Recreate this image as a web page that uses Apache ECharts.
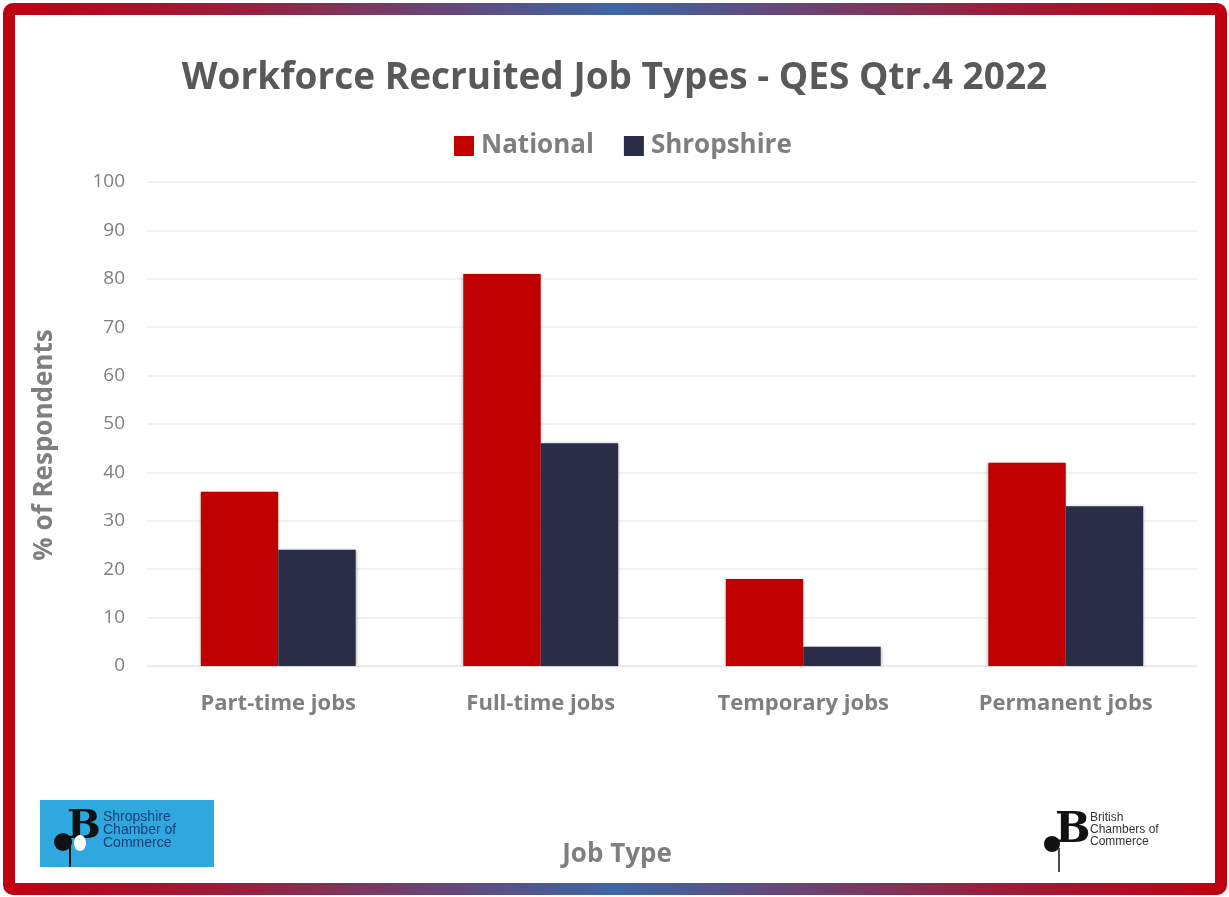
<!DOCTYPE html>
<html>
<head>
<meta charset="utf-8">
<script src="https://cdn.jsdelivr.net/npm/echarts@6/dist/echarts.min.js"></script>
<style>
html,body{margin:0;padding:0;background:#fff;}
#chart{width:1229px;height:897px;}
</style>
</head>
<body>
<div id="chart"></div>
<script>
const categories = ['Part-time jobs', 'Full-time jobs', 'Temporary jobs', 'Permanent jobs'];
const nationalValues = [36, 81, 18, 42];
const shropshireValues = [24, 46, 4, 33];
const seriesNames = ['National', 'Shropshire'];

const chart = echarts.init(document.getElementById('chart'));
const FONT = '"Open Sans", "Noto Sans", sans-serif';
const GREY = '#7f7f7f';

const option = {
  backgroundColor: '#ffffff',
  animation: false,
  title: {
    text: 'Workforce Recruited Job Types - QES Qtr.4 2022',
    left: 'center',
    top: 55,
    textStyle: { fontFamily: FONT, fontSize: 37, fontWeight: 'bold', color: '#595959' }
  },
  legend: {
    data: seriesNames,
    top: 128,
    left: 449,
    itemWidth: 20,
    itemHeight: 20,
    itemGap: 30,
    icon: 'rect',
    textStyle: { fontFamily: FONT, fontSize: 26, fontWeight: 'bold', color: GREY, padding: [0, 0, 0, 2] }
  },
  grid: { left: 147, right: 32, top: 182, bottom: 231 },
  xAxis: {
    type: 'category',
    data: categories,
    name: 'Job Type',
    nameLocation: 'middle',
    nameGap: 176,
    nameTextStyle: { fontFamily: FONT, fontSize: 26, fontWeight: 'bold', color: GREY, verticalAlign: 'top', padding: [0, 110, 0, 0] },
    axisLine: { show: true, lineStyle: { color: '#e6e6e6', width: 1 } },
    axisTick: { show: false },
    axisLabel: { margin: 27, fontFamily: FONT, fontSize: 22, fontWeight: 'bold', color: GREY }
  },
  yAxis: {
    type: 'value',
    min: 0,
    max: 100,
    interval: 10,
    name: '% of Respondents',
    nameLocation: 'middle',
    nameGap: 89,
    nameTextStyle: { fontFamily: FONT, fontSize: 26, fontWeight: 'bold', color: GREY, padding: [0, 42, 0, 0] },
    axisLine: { show: false },
    axisTick: { show: false },
    axisLabel: { margin: 22, fontFamily: FONT, fontSize: 19, color: GREY },
    splitLine: { lineStyle: { color: '#eeeeee', width: 1.5 } }
  },
  series: [
    {
      name: seriesNames[0],
      type: 'bar',
      data: nationalValues,
      barGap: '0%',
      barCategoryGap: '41%',
      itemStyle: { color: '#c00000', shadowBlur: 3, shadowColor: 'rgba(0,0,0,0.25)', shadowOffsetX: -1 }
    },
    {
      name: seriesNames[1],
      type: 'bar',
      data: shropshireValues,
      itemStyle: { color: '#2a2d48', shadowBlur: 3, shadowColor: 'rgba(0,0,0,0.25)', shadowOffsetX: 1 }
    }
  ],
  graphic: [
    {
      type: 'rect',
      shape: { x: 9, y: 9, width: 1212, height: 880, r: 4 },
      style: {
        fill: 'none',
        lineWidth: 12,
        stroke: {
          type: 'linear', x: 0, y: 0, x2: 1, y2: 0,
          colorStops: [
            { offset: 0, color: '#c00010' },
            { offset: 0.18, color: '#9c1d38' },
            { offset: 0.5, color: '#3d67a6' },
            { offset: 0.82, color: '#9c1d38' },
            { offset: 1, color: '#c00010' }
          ]
        }
      },
      z: 100
    },
    // Left logo: Shropshire Chamber of Commerce
    {
      type: 'group',
      left: 40,
      top: 800,
      children: [
        { type: 'rect', shape: { x: 0, y: 0, width: 174, height: 67 }, style: { fill: '#2fa7df' } },
        { type: 'text', x: 27, y: 8, style: { text: 'B', font: '900 40px "DejaVu Serif", serif', fill: '#111' } },
        { type: 'circle', shape: { cx: 23, cy: 42, r: 9 }, style: { fill: '#111' } },
        { type: 'ellipse', shape: { cx: 40, cy: 43, rx: 6, ry: 8 }, style: { fill: '#ffffff' } },
        { type: 'line', shape: { x1: 30, y1: 46, x2: 30, y2: 67 }, style: { stroke: '#111', lineWidth: 2 } },
        { type: 'text', x: 63, y: 11, style: { text: 'Shropshire\nChamber of\nCommerce', font: '14px "Liberation Sans", sans-serif', lineHeight: 13, fill: '#173f7a' } }
      ]
    },
    // Right logo: British Chambers of Commerce
    {
      type: 'group',
      left: 1044,
      top: 810,
      children: [
        { type: 'text', x: 13, y: 2, style: { text: 'B', font: '900 42px "DejaVu Serif", serif', fill: '#111' } },
        { type: 'circle', shape: { cx: 10, cy: 36, r: 8 }, style: { fill: '#111' } },
        { type: 'line', shape: { x1: 17, y1: 40, x2: 17, y2: 64 }, style: { stroke: '#111', lineWidth: 1.5 } },
        { type: 'text', x: 48, y: 4, style: { text: 'British\nChambers of\nCommerce', font: '12px "Liberation Sans", sans-serif', lineHeight: 12, fill: '#333' } }
      ]
    }
  ]
};
chart.setOption(option);
</script>
</body>
</html>
